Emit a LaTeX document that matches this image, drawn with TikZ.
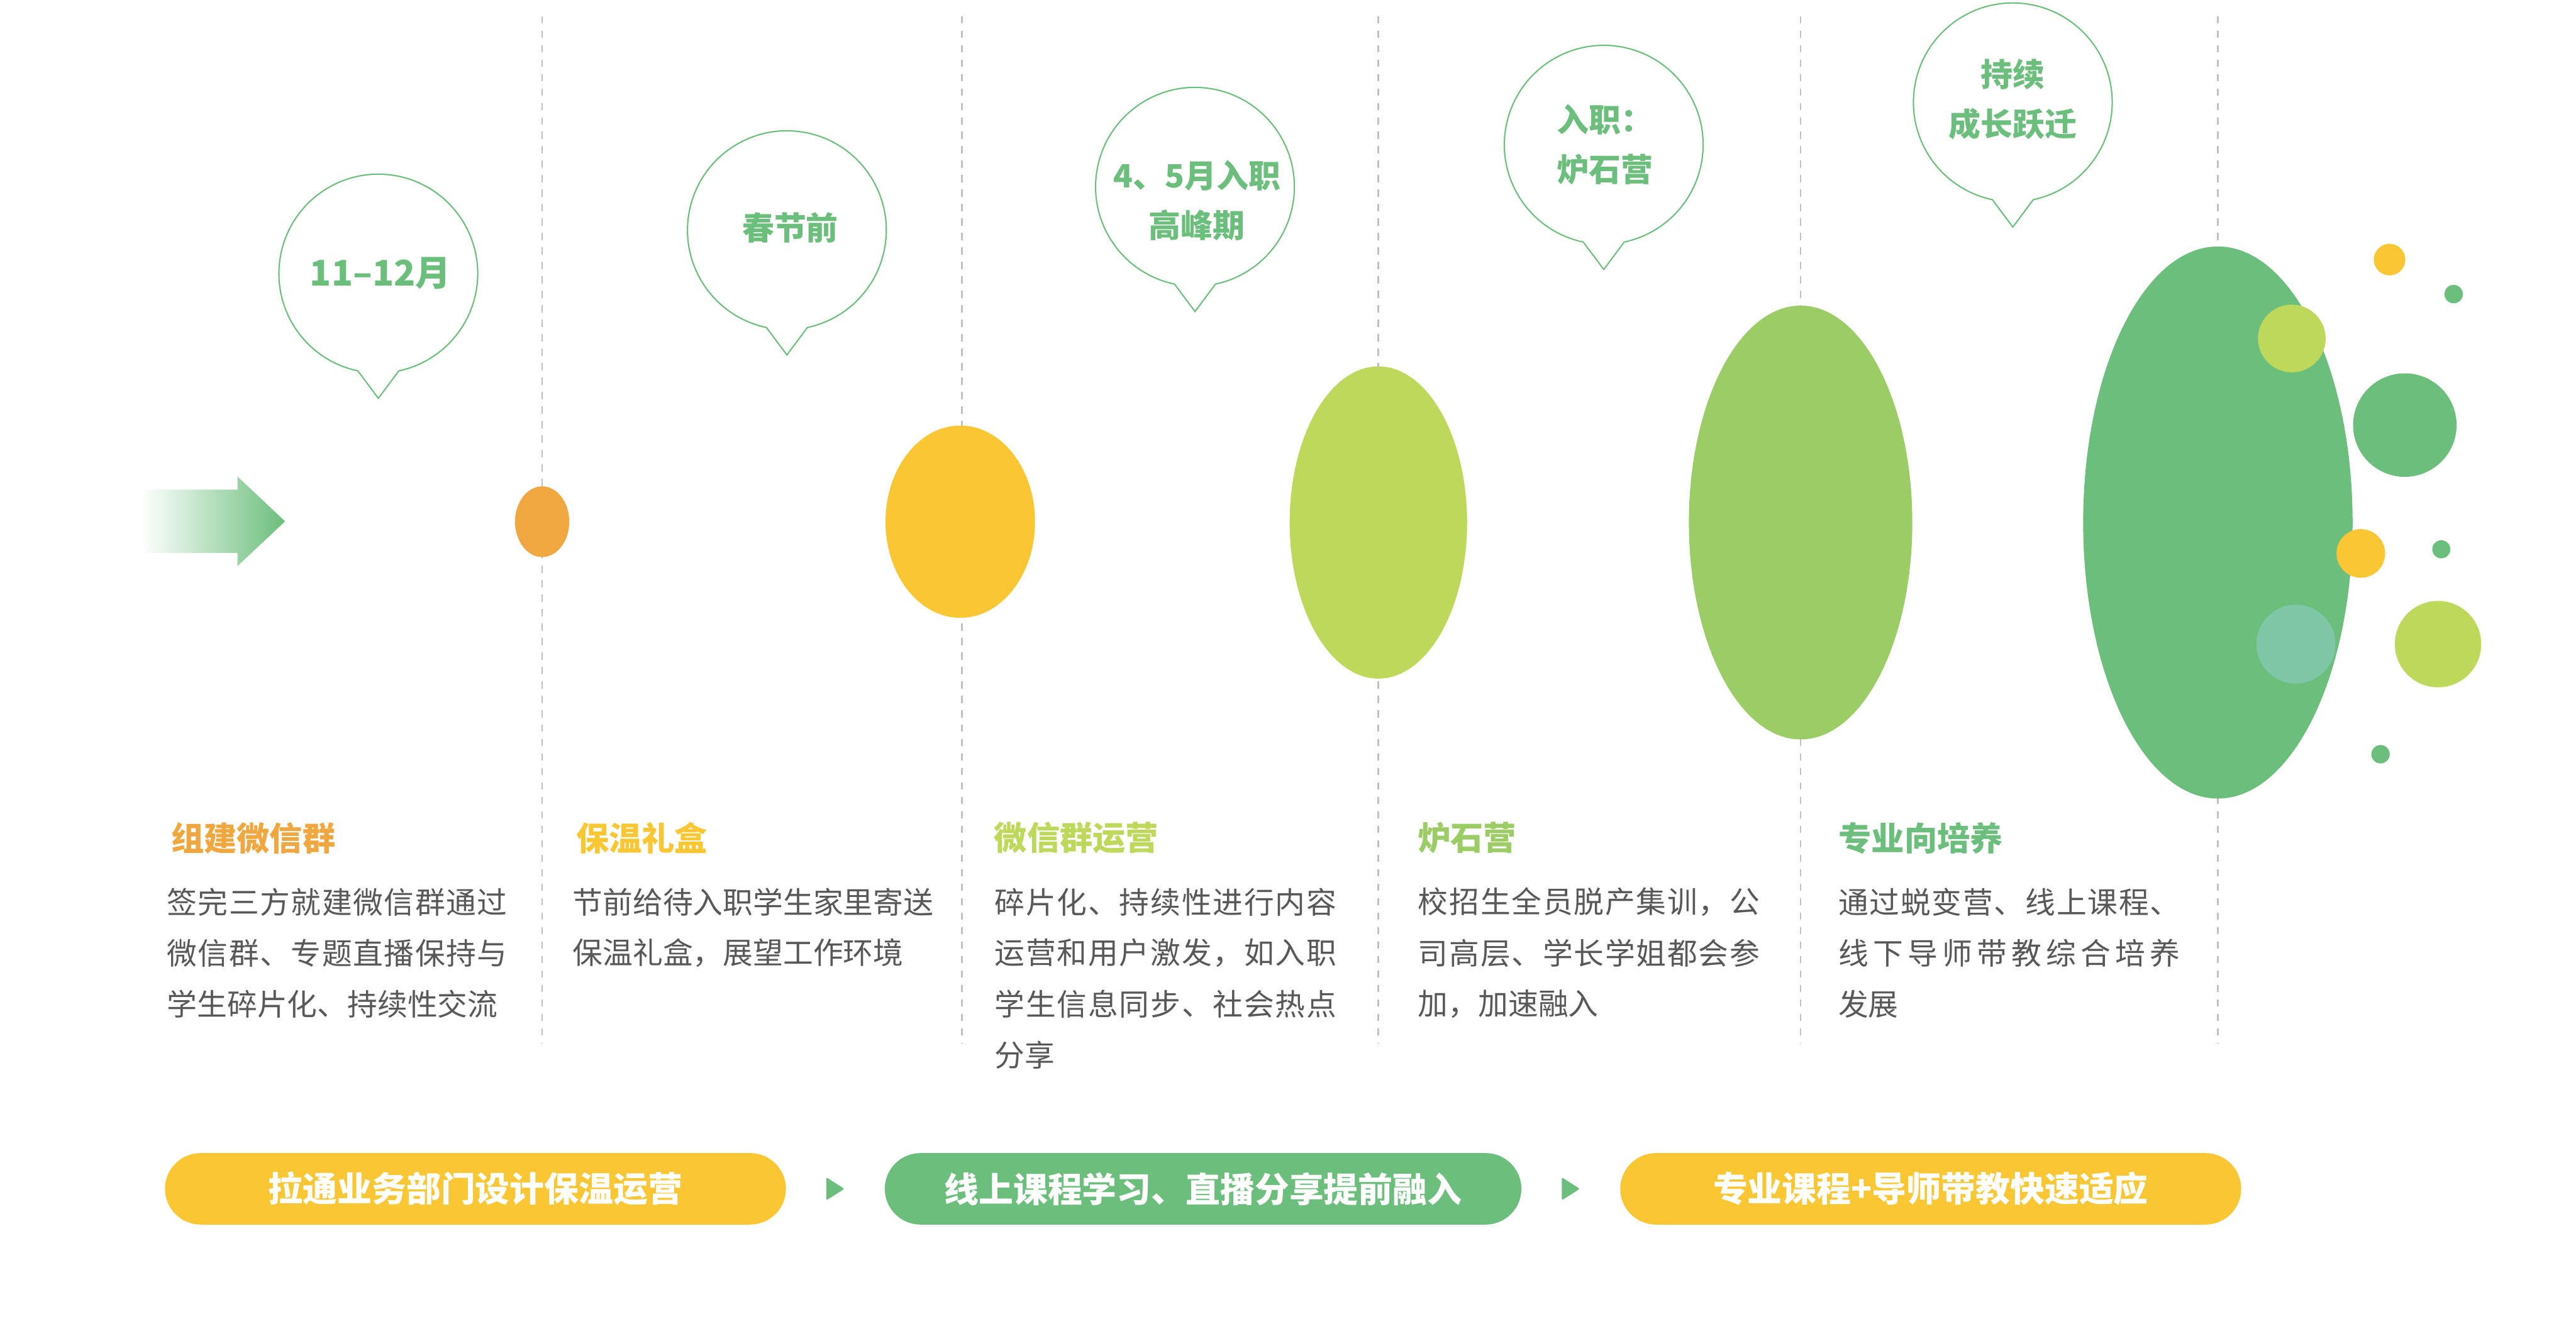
\documentclass[tikz,border=0pt]{standalone}
\usepackage{fontspec}
\setmainfont{Noto Sans CJK SC}
\usetikzlibrary{shapes.geometric,calc}
\definecolor{cgreen}{HTML}{6BBE7B}
\definecolor{cyellow}{HTML}{F9C734}
\definecolor{corange}{HTML}{F0A73F}
\definecolor{cyg}{HTML}{BED85C}
\definecolor{clg}{HTML}{9CCC65}
\definecolor{cteal}{HTML}{80C7A8}
\definecolor{cgray}{HTML}{595757}
\definecolor{cdash}{HTML}{C0C0C0}
\def\spreadaux#1#2{#1\ifx#2\relax\else\hfill\expandafter\spreadaux\expandafter#2\fi}
\newcommand\jline[2]{\hbox to #1{\spreadaux#2\relax}}
\begin{document}
\begin{tikzpicture}[x=1pt,y=-1pt,
  dashline/.style={draw=cdash,line width=1pt,dash pattern=on 4.4pt off 4.4pt},
  blob/.style={ellipse,inner sep=0pt,draw=none},
  dot/.style={circle,inner sep=0pt,draw=none},
  bubbleline/.style={draw=cgreen,line width=0.8pt,fill=white,line join=miter},
  btext/.style={inner sep=0pt,text=cgreen,align=center,font=\fontsize{19.5}{30}\selectfont\bfseries},
  title/.style={anchor=west,inner sep=0pt,font=\fontsize{20}{20}\selectfont\bfseries},
  body/.style={anchor=west,inner sep=0pt,text=cgray,font=\fontsize{18.3}{31}\selectfont},
  bar/.style={rectangle,rounded corners=21.75pt,minimum height=43.5pt,inner sep=0pt,text=white,font=\fontsize{21}{21}\selectfont\bfseries},
  marker/.style={fill=cgreen,rounded corners=1pt}]
\useasboundingbox (0,0) rectangle (1568,810);

% dashed guide lines
\foreach \x in {330,585.5,839,1096,1350}
  \draw[dashline] (\x,9.8) -- (\x,634.7);

% gradient arrow
\shade[left color=white,right color=cgreen]
  (86,298) -- (144.6,298) -- (144.6,290) -- (173.5,317.3) -- (144.6,344.5) -- (144.6,336.5) -- (86,336.5) -- cycle;

% growing ellipses
\node[blob,fill=corange,minimum width=33pt,minimum height=43pt] (e1) at (330,317.5) {};
\node[blob,fill=cyellow,minimum width=91pt,minimum height=117pt] (e2) at (584.5,317.5) {};
\node[blob,fill=cyg,minimum width=108pt,minimum height=190pt] (e3) at (839,318) {};
\node[blob,fill=clg,minimum width=136pt,minimum height=264pt] (e4) at (1096,318) {};
\node[blob,fill=cgreen,minimum width=164pt,minimum height=336pt] (e5) at (1350,318) {};

% decorative dots
\node[dot,fill=cyg,minimum size=41.2pt] (d1) at (1395,206) {};
\node[dot,fill=cyellow,minimum size=19.2pt] (d2) at (1454.5,158) {};
\node[dot,fill=cgreen,minimum size=11.2pt] (d3) at (1493.5,179) {};
\node[dot,fill=cgreen,minimum size=63pt] (d4) at (1463.8,258.7) {};
\node[dot,fill=cyellow,minimum size=29.6pt] (d5) at (1437,336.8) {};
\node[dot,fill=cgreen,minimum size=11pt] (d6) at (1486,334.3) {};
\node[dot,fill=cteal,minimum size=48pt] (d7) at (1397.5,392) {};
\node[dot,fill=cyg,minimum size=52.6pt] (d8) at (1484,392) {};
\node[dot,fill=cgreen,minimum size=11.2pt] (d9) at (1449,459) {};

% speech bubbles
\foreach \cx/\cy/\nm in {230.3/166.4/b1,479/140/b2,727.4/113.6/b3,976.2/88/b4,1225.2/62.2/b5}{
  \coordinate (\nm) at (\cx,\cy);
  \draw[bubbleline] (\cx-12.5,\cy+59.3) arc[start angle=101.9,end angle=438.1,radius=60.5]
    -- (\cx,\cy+76) -- cycle;
}
\node[btext,font=\fontsize{21.5}{30}\selectfont\bfseries] (t1) at (231.5,166.4) {11–12月};
\node[btext] (t2) at (481,138.5) {春节前};
\node[btext] (t3) at (728.5,122) {4、5月入职\\高峰期};
\node[btext] (t4) at (977,88) {入职：\\炉石营};
\node[btext] (t5) at (1225.2,60.5) {持续\\成长跃迁};

% column titles
\node[title,text=corange] (h1) at (104,510) {组建微信群};
\node[title,text=cyellow] (h2) at (350.5,510) {保温礼盒};
\node[title,text=cyg] (h3) at (605,510) {微信群运营};
\node[title,text=clg] (h4) at (862.8,510) {炉石营};
\node[title,text=cgreen] (h5) at (1119,510) {专业向培养};

% column 1
\node[body] (c1a) at (101.5,549) {\jline{207pt}{签完三方就建微信群通过}};
\node[body] (c1b) at (101.5,580) {\jline{207pt}{微信群、专题直播保持与}};
\node[body] (c1c) at (101.5,611) {学生碎片化、持续性交流};
% column 2
\node[body] (c2a) at (348.4,549) {\jline{216pt}{节前给待入职学生家里寄送}};
\node[body] (c2b) at (348.4,580) {保温礼盒，展望工作环境};
% column 3
\node[body] (c3a) at (605.3,549) {\jline{208pt}{碎片化、持续性进行内容}};
\node[body] (c3b) at (605.3,580) {\jline{208pt}{运营和用户激发，如入职}};
\node[body] (c3c) at (605.3,611) {\jline{208pt}{学生信息同步、社会热点}};
\node[body] (c3d) at (605.3,642) {分享};
% column 4
\node[body] (c4a) at (863,549) {\jline{208pt}{校招生全员脱产集训，公}};
\node[body] (c4b) at (863,580) {\jline{208pt}{司高层、学长学姐都会参}};
\node[body] (c4c) at (863,611) {加，加速融入};
% column 5
\node[body] (c5a) at (1118.8,549) {\jline{208pt}{通过蜕变营、线上课程、}};
\node[body] (c5b) at (1118.8,580) {\jline{208pt}{线下导师带教综合培养}};
\node[body] (c5c) at (1118.8,611) {发展};

% bottom bars
\node[bar,fill=cyellow,minimum width=378pt] (bar1) at (289.4,723.5) {拉通业务部门设计保温运营};
\node[bar,fill=cgreen,minimum width=387.5pt] (bar2) at (732.3,723.5) {线上课程学习、直播分享提前融入};
\node[bar,fill=cyellow,minimum width=378pt] (bar3) at (1175.2,723.5) {专业课程+导师带教快速适应};

\coordinate (m1) at ($(bar1.east)!0.5!(bar2.west)$);
\coordinate (m2) at ($(bar2.east)!0.5!(bar3.west)$);
\fill[marker] ($(m1)+(-5.5,-7)$) -- ($(m1)+(5.5,0)$) -- ($(m1)+(-5.5,7)$) -- cycle;
\fill[marker] ($(m2)+(-5.5,-7)$) -- ($(m2)+(5.5,0)$) -- ($(m2)+(-5.5,7)$) -- cycle;
\end{tikzpicture}
\end{document}
